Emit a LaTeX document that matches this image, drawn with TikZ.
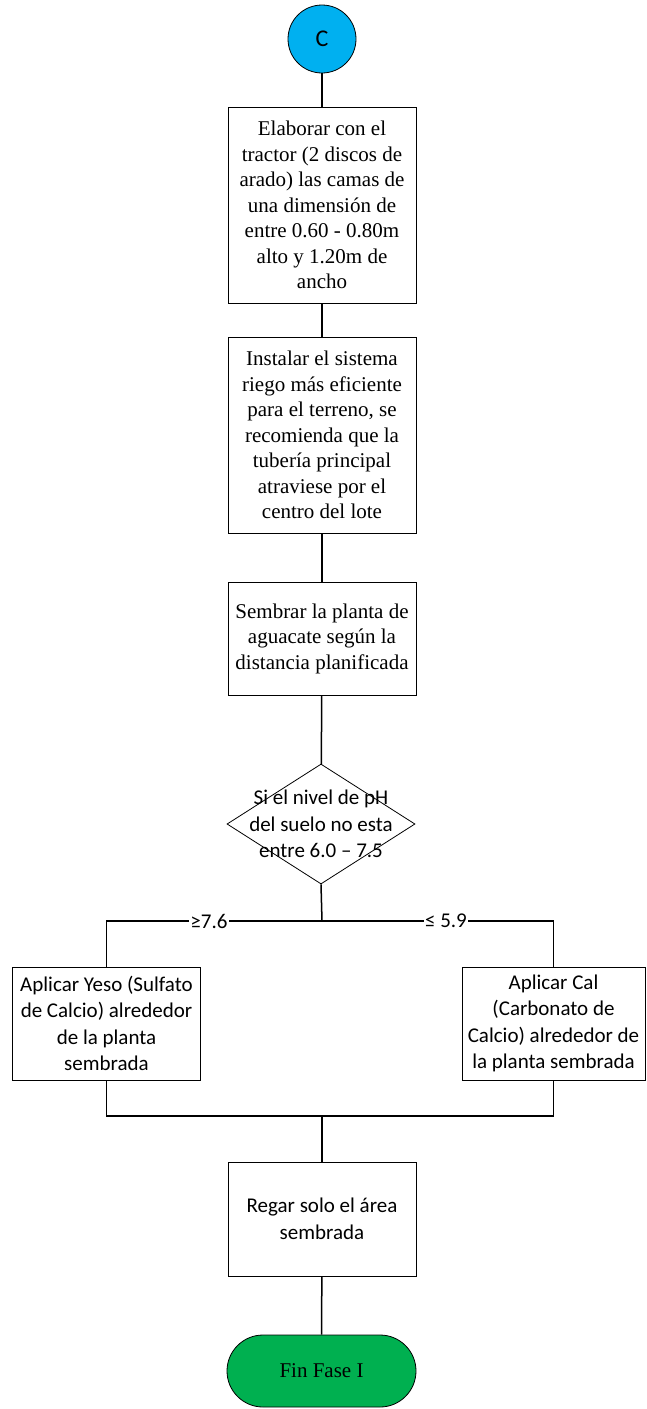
\documentclass[tikz,border=0pt]{standalone}
\usepackage{fontspec}
\setmainfont{Liberation Serif}
\newfontfamily\calibri{Carlito}
\usetikzlibrary{shapes.geometric}
\definecolor{startblue}{RGB}{0,176,240}
\definecolor{endgreen}{RGB}{0,176,80}
\begin{document}
\begin{tikzpicture}[x=1pt,y=-1pt,
  serif/.style={font=\fontsize{21}{25.5}\selectfont},
  sans/.style={font=\calibri\fontsize{21}{26.5}\selectfont},
  stepbox/.style={draw,line width=0.8pt,minimum width=188pt,inner sep=0pt,align=center},
  link/.style={line width=1.5pt}]
\useasboundingbox (0,0) rectangle (646,1409);

% start connector
\node[circle,draw,line width=0.8pt,fill=startblue,minimum size=68pt,inner sep=0pt,font=\calibri\fontsize{24}{28}\selectfont] (c) at (322,39) {C};

% main column
\node[stepbox,serif,minimum height=196pt] (b1) at (322,205)
  {Elaborar con el\\tractor (2 discos de\\arado) las camas de\\una dimensión de\\entre 0.60 - 0.80m\\alto y 1.20m de\\ancho};
\node[stepbox,serif,minimum height=196pt] (b2) at (322,435)
  {Instalar el sistema\\riego más eficiente\\para el terreno, se\\recomienda que la\\tubería principal\\atraviese por el\\centro del lote};
\node[stepbox,serif,minimum height=113pt] (b3) at (322,638.5)
  {Sembrar la planta de\\aguacate según la\\distancia planificada};

% decision
\node[diamond,draw,line width=0.8pt,minimum width=188pt,minimum height=120pt,inner sep=0pt] (d) at (321,824) {};
\node[sans,align=center] (dt) at (d.center) {Si el nivel de pH\\del suelo no esta\\entre 6.0 – 7.5};

% branches
\node[stepbox,sans,minimum height=113pt] (l) at (106.5,1023.5)
  {Aplicar Yeso (Sulfato\\de Calcio) alrededor\\de la planta\\sembrada};
\node[stepbox,sans,minimum width=183pt,minimum height=113pt] (r) at (553.5,1023.5)
  {Aplicar Cal\\(Carbonato de\\Calcio) alrededor de\\la planta sembrada};

\node[stepbox,sans,minimum height=114pt] (b4) at (322,1219)
  {Regar solo el área\\sembrada};

\node[draw,line width=0.8pt,fill=endgreen,rounded corners=36pt,minimum width=189pt,minimum height=72pt,serif] (end) at (321.5,1371) {Fin Fase I};

\coordinate (split) at (322,921);
\coordinate (merge) at (322,1116);

\draw[link] (c) -- (b1);
\draw[link] (b1) -- (b2);
\draw[link] (b2) -- (b3);
\draw[link] (b3) -- (d);
\draw[link] (d.south) -- (split);
\draw[link] (split) -- (split -| l.north) -- (l.north);
\draw[link] (split) -- (split -| r.north) -- (r.north);
\draw[link] (l.south) -- (merge -| l.south) -- (merge -| r.south) -- (r.south);
\draw[link] (merge) -- (b4.north);
\draw[link] (b4) -- (end);

% branch labels
\node[sans,fill=white,inner sep=1pt] (gt) at (209,921) {≥7.6};
\node[sans,fill=white,inner sep=1pt] (lt) at (446,921) {≤ 5.9};
\end{tikzpicture}
\end{document}
